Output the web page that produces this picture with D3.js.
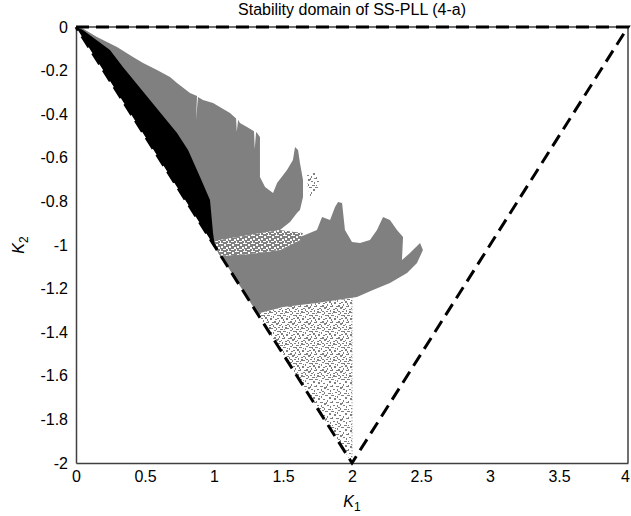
<!DOCTYPE html>
<html>
<head>
<meta charset="utf-8">
<script src="https://cdn.jsdelivr.net/npm/d3@7"></script>
<style>
  body { margin: 0; background: #fff; }
  text { font-family: "Liberation Sans", Arial, sans-serif; fill: #000; }
</style>
</head>
<body>
<div id="chart"></div>
<script>
var svgwidth = 631;
var svgheight = 516;
var margin = { top: 27, bottom: 53, right: 3, left: 76 };
var width = svgwidth - margin.left - margin.right;
var height = svgheight - margin.top - margin.bottom;

var xTicks = [0, 0.5, 1, 1.5, 2, 2.5, 3, 3.5, 4];
var yTicks = [0, -0.2, -0.4, -0.6, -0.8, -1, -1.2, -1.4, -1.6, -1.8, -2];

// dashed triangle (theoretical bound)
var bound = [[0, 0], [4, 0], [2, -2], [0, 0]];

// gray region, upper lobe (top edge, then down to the diagonal)
var grayUpper = [
  [0, 0], [0.043, -0.005], [0.152, -0.046], [0.297, -0.092], [0.413, -0.138],
  [0.486, -0.165], [0.587, -0.197], [0.681, -0.229], [0.732, -0.257],
  [0.826, -0.303], [0.877, -0.317], [0.870, -0.427], [0.884, -0.321],
  [0.920, -0.335], [0.993, -0.349], [1.116, -0.394], [1.160, -0.420],
  [1.165, -0.480], [1.175, -0.425], [1.188, -0.440], [1.239, -0.459],
  [1.290, -0.478], [1.295, -0.560], [1.305, -0.482], [1.312, -0.486],
  [1.333, -0.505], [1.333, -0.688],
  [1.370, -0.734], [1.428, -0.761], [1.457, -0.716], [1.529, -0.656],
  [1.572, -0.610], [1.587, -0.550], [1.609, -0.564], [1.623, -0.624],
  [1.645, -0.702], [1.645, -0.780], [1.623, -0.839], [1.601, -0.853],
  [1.551, -0.894], [1.478, -0.931], [1.261, -0.954], [1.043, -0.977],
  [1.0, -1.0], [0, 0]
];

// black region, between diagonal and its right edge
var blackRegion = [
  [0, 0], [0.05, -0.014], [0.246, -0.106], [0.34, -0.183], [0.536, -0.335],
  [0.732, -0.486], [0.812, -0.564], [0.899, -0.688], [0.971, -0.794],
  [0.993, -0.945], [1.007, -1.009], [0, 0]
];

// speckled band between the two lobes
var bandRegion = [
  [1.0, -0.985], [1.043, -0.977], [1.261, -0.954], [1.478, -0.931],
  [1.645, -0.945], [1.623, -0.977], [1.478, -1.023], [1.261, -1.041],
  [1.043, -1.050], [1.014, -1.014]
];

// gray region, lower lobe
var grayLower = [
  [1.014, -1.014], [1.043, -1.050], [1.261, -1.041], [1.478, -1.023],
  [1.623, -0.977], [1.623, -0.963], [1.746, -0.931], [1.783, -0.872],
  [1.841, -0.885], [1.877, -0.826], [1.899, -0.803], [1.928, -0.807],
  [1.949, -0.931], [2.0, -0.986], [2.058, -0.991], [2.130, -0.977],
  [2.181, -0.931], [2.225, -0.872], [2.275, -0.885], [2.326, -0.931],
  [2.370, -0.963], [2.362, -1.069], [2.420, -1.037], [2.493, -0.991],
  [2.514, -1.023], [2.471, -1.083], [2.399, -1.128], [2.275, -1.174],
  [2.152, -1.206], [2.036, -1.239], [1.891, -1.252], [1.746, -1.266],
  [1.5, -1.284], [1.333, -1.312], [1.33, -1.33]
];

// speckled region below the lower lobe: denser upper part, sparse lower part
var speckleUpper = [
  [1.33, -1.33], [1.62, -1.62], [2.0, -1.62], [2.0, -1.245],
  [1.891, -1.252], [1.746, -1.266], [1.5, -1.284], [1.333, -1.312]
];
var speckleLower = [
  [1.62, -1.62], [1.98, -1.98], [2.0, -1.98], [2.0, -1.62]
];

// small speckled patch right of the upper lobe
var specklePatch = [
  [1.674, -0.670], [1.740, -0.665], [1.768, -0.700], [1.755, -0.745],
  [1.700, -0.780], [1.680, -0.740]
];

var svg = d3.select("#chart").append("svg").attr("width", svgwidth).attr("height", svgheight);
var chartGroup = svg.append("g").attr("transform", "translate(" + margin.left + "," + margin.top + ")");

var xLinear = d3.scaleLinear().domain([0, 4]).range([0, width]);
var yLinear = d3.scaleLinear().domain([-2, 0]).range([height, 0]);

var defs = svg.append("defs");
function makePattern(id, size, bg, fg, rects) {
  var p = defs.append("pattern").attr("id", id)
      .attr("patternUnits", "userSpaceOnUse").attr("width", size).attr("height", size);
  p.append("rect").attr("width", size).attr("height", size).attr("fill", bg);
  rects.forEach(function(r) {
    p.append("rect").attr("x", r[0]).attr("y", r[1]).attr("width", r[2]).attr("height", r[3]).attr("fill", fg);
  });
}
var sparseDots = [[0, 0, 2, 1], [5, 1, 1, 2], [9, 0, 3, 1], [13, 2, 2, 2], [2, 3, 2, 2], [7, 4, 2, 1],
 [11, 5, 1, 2], [0, 6, 1, 2], [4, 7, 3, 1], [14, 7, 2, 1], [8, 8, 2, 2], [1, 10, 2, 1],
 [5, 10, 1, 2], [11, 10, 2, 1], [14, 11, 1, 2], [3, 13, 2, 1], [8, 13, 1, 2], [12, 14, 3, 1],
 [0, 14, 1, 1], [6, 15, 2, 1], [15, 0, 1, 1], [3, 1, 1, 1], [10, 7, 1, 2], [6, 12, 2, 1]];
var extraDots = [[6, 6, 2, 2], [12, 0, 1, 2], [1, 12, 2, 2], [10, 12, 2, 1], [15, 4, 1, 2],
 [3, 9, 2, 1], [9, 3, 2, 1], [13, 9, 1, 1]];
makePattern("speckle", 16, "#fff", "#808080", sparseDots);
makePattern("speckleDense", 16, "#fff", "#808080", sparseDots.concat(extraDots));
makePattern("band", 8, "#808080", "#fff",
  [[0, 0, 3, 1], [4, 1, 2, 2], [1, 3, 2, 2], [6, 4, 2, 2], [3, 6, 3, 1], [0, 6, 1, 2], [7, 0, 1, 1]]);

var line = d3.line().x(d => xLinear(d[0])).y(d => yLinear(d[1]));

chartGroup.append("path").attr("d", line(speckleUpper) + "Z").attr("fill", "url(#speckleDense)");
chartGroup.append("path").attr("d", line(speckleLower) + "Z").attr("fill", "url(#speckle)");
chartGroup.append("path").attr("d", line(specklePatch) + "Z").attr("fill", "url(#speckle)");
chartGroup.append("line")
    .attr("x1", xLinear(2)).attr("x2", xLinear(2))
    .attr("y1", yLinear(-1.24)).attr("y2", yLinear(-1.98))
    .attr("stroke", "#808080").attr("stroke-width", 1).attr("stroke-dasharray", "1,2");
chartGroup.append("path").attr("d", line(grayUpper) + "Z").attr("fill", "#808080");
chartGroup.append("path").attr("d", line(grayLower) + "Z").attr("fill", "#808080");
chartGroup.append("path").attr("d", line(bandRegion) + "Z").attr("fill", "url(#band)");
chartGroup.append("path").attr("d", line(blackRegion) + "Z").attr("fill", "#000");

// axes box
var fmt = d => String(d);
var bottomAxis = d3.axisBottom(xLinear).tickValues(xTicks).tickSize(0).tickPadding(8).tickFormat(fmt);
var leftAxis = d3.axisLeft(yLinear).tickValues(yTicks).tickSize(0).tickPadding(8).tickFormat(fmt);
var gx = chartGroup.append("g").attr("transform", "translate(0," + height + ")").call(bottomAxis);
var gy = chartGroup.append("g").call(leftAxis);
[gx, gy].forEach(function(g) {
  g.select(".domain").attr("stroke", "#404040").attr("stroke-width", 1.5);
  g.selectAll("text").style("font-size", "16px").attr("fill", "#000")
    .style("font-family", "'Liberation Sans', Arial, sans-serif");
});
gx.selectAll(".tick text").filter(d => d === 4).attr("dx", -3);
chartGroup.append("line").attr("x1", width).attr("x2", width).attr("y1", 0).attr("y2", height)
    .attr("stroke", "#404040").attr("stroke-width", 1.5);
chartGroup.append("line").attr("x1", 0).attr("x2", width).attr("y1", 0).attr("y2", 0)
    .attr("stroke", "#404040").attr("stroke-width", 1.5);

// dashed bound
chartGroup.append("path").attr("d", line(bound))
    .attr("fill", "none").attr("stroke", "#000").attr("stroke-width", 3)
    .attr("stroke-dasharray", "13,7");

// titles
svg.append("text")
    .attr("x", margin.left + width / 2).attr("y", 15)
    .attr("text-anchor", "middle").style("font-size", "16px")
    .text("Stability domain of SS-PLL (4-a)");

var xl = svg.append("text")
    .attr("x", margin.left + width / 2).attr("y", 507)
    .attr("text-anchor", "middle").style("font-size", "16px");
xl.append("tspan").style("font-style", "italic").text("K");
xl.append("tspan").attr("dy", 4).style("font-size", "12px").text("1");

var yl = svg.append("text")
    .attr("transform", "translate(24," + (margin.top + yLinear(-1)) + ") rotate(-90)")
    .attr("text-anchor", "middle").style("font-size", "16px");
yl.append("tspan").style("font-style", "italic").text("K");
yl.append("tspan").attr("dy", 4).style("font-size", "12px").text("2");
</script>
</body>
</html>
